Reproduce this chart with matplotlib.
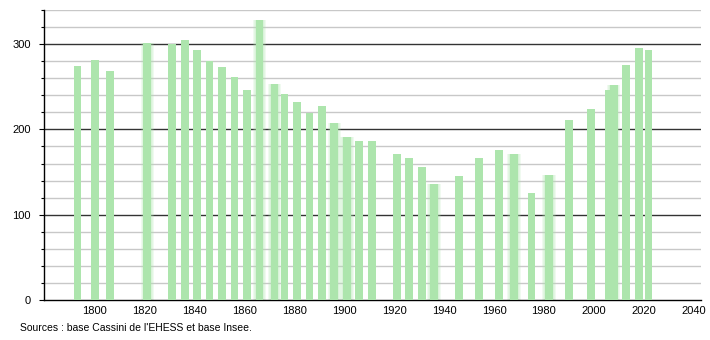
import matplotlib
matplotlib.use("Agg")
import matplotlib.pyplot as plt
from matplotlib.ticker import MultipleLocator

# census years and population
years = [1793, 1800, 1806, 1821, 1831, 1836, 1841, 1846, 1851, 1856,
         1861, 1866, 1872, 1876, 1881, 1886, 1891, 1896, 1901, 1906,
         1911, 1921, 1926, 1931, 1936, 1946, 1954, 1962, 1968, 1975,
         1982, 1990, 1999, 2006, 2008, 2013, 2018, 2022]
population = [274, 281, 268, 301, 300, 305, 293, 280, 273, 261,
              246, 328, 253, 241, 232, 219, 227, 207, 191, 187,
              187, 171, 167, 156, 136, 145, 167, 176, 171, 126,
              147, 211, 224, 246, 252, 275, 295, 293]

xticks = list(range(1800, 2041, 20))
yticks = [0, 100, 200, 300]
source = "Sources : base Cassini de l'EHESS et base Insee."

# bars that look smeared in the original picture
soft = [1821, 1866, 1872, 1896, 1901, 1936, 1968, 1982, 2008]

plt.rcParams['font.family'] = ['Liberation Sans', 'DejaVu Sans']
plt.rcParams['font.size'] = 8

fig = plt.figure(figsize=(7.1, 3.4), dpi=100)
ax = fig.add_axes([44/710, 1 - 300/340, 657/710, 290/340])

bar_col = '#ade5ad'
for y, p in zip(years, population):
    if y in soft:
        # fake blur: a few wide, faint layers
        for w in (3.8, 4.6, 5.4):
            ax.bar(y, p, width=w, color=bar_col, alpha=0.18, zorder=2, linewidth=0)
ax.bar(years, population, width=3.1, color=bar_col, zorder=3, linewidth=0)

ax.set_xlim(1779.6, 2043)
ax.set_ylim(0, 340)

# grid: light every 20, dark every 100
for v in range(20, 341, 20):
    if v % 100 == 0:
        ax.axhline(v, color='#333333', lw=1.0, zorder=1)
    else:
        ax.axhline(v, color='#c8c8c8', lw=1.0, zorder=1)

ax.set_xticks(xticks)
ax.set_xticklabels([str(x) for x in xticks])
ax.set_yticks(yticks)
ax.yaxis.set_minor_locator(MultipleLocator(20))
ax.tick_params(axis='x', length=0, pad=4)
ax.tick_params(axis='y', which='major', length=3.5, width=0.8, pad=6)
ax.tick_params(axis='y', which='minor', length=2.5, width=0.8)

for s in ['top', 'right']:
    ax.spines[s].set_visible(False)
ax.spines['left'].set_linewidth(1.0)
ax.spines['bottom'].set_linewidth(1.0)

fig.text(20/710, 1 - 328/340, source, fontsize=7.5, va='center', ha='left')

fig.savefig("out.png", dpi=100)
